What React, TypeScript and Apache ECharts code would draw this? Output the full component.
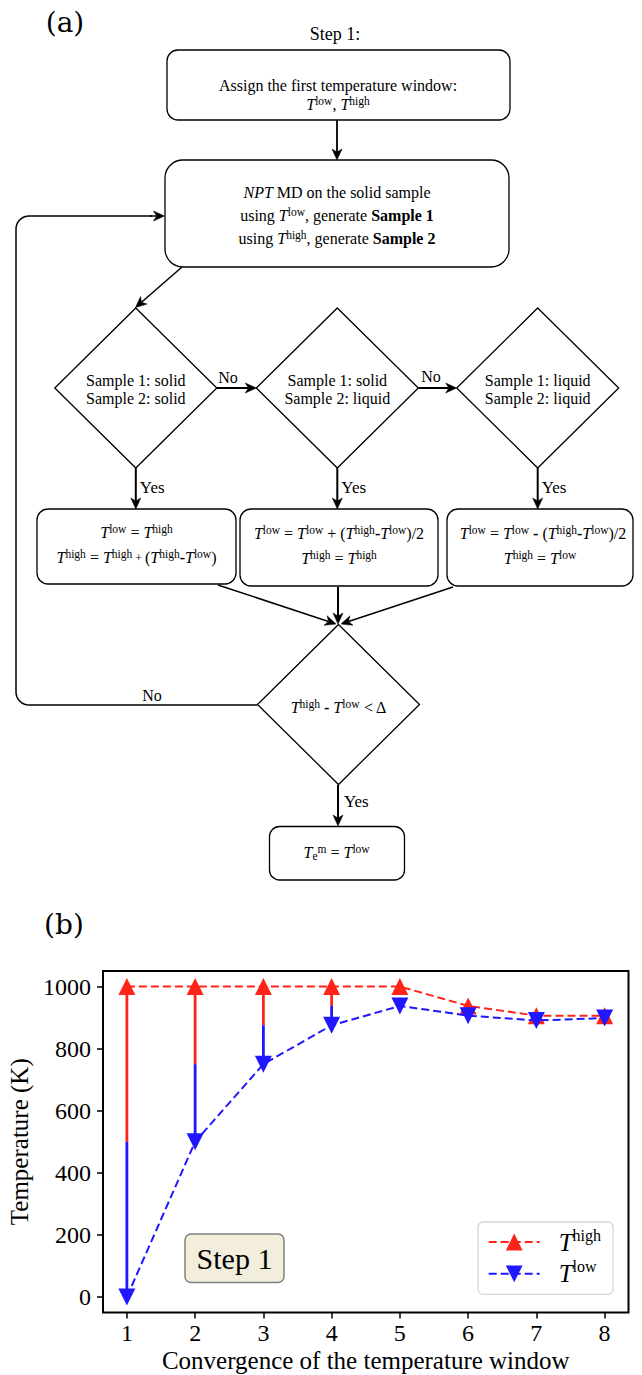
import React, { useEffect, useRef } from 'react';
import * as echarts from 'echarts';

// ---------- data ----------
const steps = [1, 2, 3, 4, 5, 6, 7, 8];
const tHigh = [1000, 1000, 1000, 1000, 1000, 937.5, 906.25, 906.25];
const tLow = [0, 500, 750, 875, 937.5, 906.25, 890.6, 898.4];
const splitSteps = [1, 2, 3, 4];
const splitHigh = [1000, 1000, 1000, 1000];
const splitMid = [500, 750, 875, 937.5];
const splitLow = [0, 500, 750, 875];
const xTicks = [1, 2, 3, 4, 5, 6, 7, 8];
const yTicks = [0, 200, 400, 600, 800, 1000];

const F = 'Liberation Serif';
const RED = '#ff2419';
const BLUE = '#2016ff';

const RICH: any = {
  n: { fontFamily: F, fontSize: 16, lineHeight: 19 },
  i: { fontFamily: F, fontSize: 16, lineHeight: 19, fontStyle: 'italic' },
  b: { fontFamily: F, fontSize: 16, lineHeight: 19, fontWeight: 'bold' },
  p: { fontFamily: F, fontSize: 11.5, lineHeight: 11, verticalAlign: 'top' },
  e: { fontFamily: F, fontSize: 11.5, lineHeight: 11, verticalAlign: 'bottom' },
  s: { fontFamily: F, fontSize: 12, lineHeight: 19 },
};

function buildFlow(): any[] {
  const els: any[] = [];
  const LW = 1.3;
  const rect = (x: number, y: number, w: number, h: number, r: number) =>
    els.push({ type: 'rect', shape: { x, y, width: w, height: h, r }, style: { fill: '#fff', stroke: '#000', lineWidth: LW } });
  const diamond = (cx: number, cy: number, hw: number, hh: number) =>
    els.push({
      type: 'polygon',
      shape: { points: [[cx, cy - hh], [cx + hw, cy], [cx, cy + hh], [cx - hw, cy]] },
      style: { fill: '#fff', stroke: '#000', lineWidth: LW },
    });
  const arrow = (x1: number, y1: number, x2: number, y2: number, lw = 1.8, len = 11, hw = 5) => {
    const dx = x2 - x1, dy = y2 - y1, L = Math.hypot(dx, dy);
    const ux = dx / L, uy = dy / L, px = -uy, py = ux;
    const bx = x2 - ux * len, by = y2 - uy * len;
    const nx = x2 - ux * len * 0.72, ny = y2 - uy * len * 0.72;
    els.push({ type: 'line', shape: { x1, y1, x2: nx, y2: ny }, style: { stroke: '#000', lineWidth: lw } });
    els.push({
      type: 'polygon',
      shape: { points: [[x2, y2], [bx + px * hw, by + py * hw], [nx, ny], [bx - px * hw, by - py * hw]] },
      style: { fill: '#000', stroke: '#000', lineWidth: 0.5 },
    });
  };
  const txt = (x: number, y: number, text: string, extra: any = {}) =>
    els.push({
      type: 'text', x, y,
      style: { text, rich: RICH, align: 'center', verticalAlign: 'middle', fill: '#000', fontFamily: F, fontSize: 16, ...extra },
    });

  // panel labels
  els.push({ type: 'text', x: 65, y: 22, style: { text: '(a)', align: 'center', verticalAlign: 'middle', fill: '#000', fontFamily: 'DejaVu Serif', fontSize: 28 } });
  els.push({ type: 'text', x: 64, y: 924, style: { text: '(b)', align: 'center', verticalAlign: 'middle', fill: '#000', fontFamily: 'DejaVu Serif', fontSize: 28 } });

  // Step 1 title + first box
  txt(335, 33.5, '{n|Step 1:}', { rich: { n: { fontFamily: F, fontSize: 18 } } });
  rect(167, 50, 343, 70, 11);
  txt(338, 85, '{n|Assign the first temperature window:}');
  txt(338, 104, '{i|T}{p|low}{n|, }{i|T}{p|high}');
  arrow(337, 120, 337, 160);

  // second box
  rect(165, 160, 344, 107, 18);
  txt(337, 192, '{i|NPT}{n| MD on the solid sample}');
  txt(337, 215, '{n|using }{i|T}{p|low}{n|, generate }{b|Sample 1}');
  txt(337, 238, '{n|using }{i|T}{p|high}{n|, generate }{b|Sample 2}');

  // diagonal arrow to first diamond
  arrow(182, 267, 135.5, 307.5, 1.5);

  // three diamonds
  const dCx = [135.8, 337.3, 537.7];
  const dCy = 388;
  const dLines = [
    ['Sample 1: solid', 'Sample 2: solid'],
    ['Sample 1: solid', 'Sample 2: liquid'],
    ['Sample 1: liquid', 'Sample 2: liquid'],
  ];
  dCx.forEach((cx, k) => {
    diamond(cx, dCy, 81, 80);
    txt(cx, 380, '{n|' + dLines[k][0] + '}');
    txt(cx, 398.5, '{n|' + dLines[k][1] + '}');
    arrow(cx, 468, cx, 509, 2);
    txt(cx + 4, 487, '{n|Yes}', { align: 'left', rich: { n: { fontFamily: F, fontSize: 17 } } });
  });
  arrow(216.8, dCy, 256.3, dCy, 2);
  arrow(418.3, dCy, 456.7, dCy, 2);
  txt(228, 377, '{n|No}');
  txt(431, 376.5, '{n|No}');

  // result boxes
  rect(37, 509, 199, 75, 11);
  rect(240, 509, 198, 77, 11);
  rect(447, 509, 186, 77, 11);
  txt(136.5, 532.5, '{i|T}{p|low}{n| = }{i|T}{p|high}');
  txt(136.5, 557.5, '{i|T}{p|high}{n| = }{i|T}{p|high}{s| + }{n|(}{i|T}{p|high}{b|-}{i|T}{p|low}{n|)}');
  txt(339, 533, '{i|T}{p|low}{n| = }{i|T}{p|low}{n| + (}{i|T}{p|high}{b|-}{i|T}{p|low}{n|)/2}');
  txt(339, 558, '{i|T}{p|high}{n| = }{i|T}{p|high}');
  txt(543, 533, '{i|T}{p|low}{n| = }{i|T}{p|low}{b| - }{n|(}{i|T}{p|high}{b|-}{i|T}{p|low}{n|)/2}');
  txt(540, 558, '{i|T}{p|high}{n| = }{i|T}{p|low}');

  // converging arrows
  arrow(218, 585, 336, 624, 1.5);
  arrow(338, 587, 338, 624, 2);
  arrow(453, 587, 341, 624, 1.5);

  // convergence diamond
  diamond(338.5, 704.5, 81, 80);
  txt(338.7, 707, '{i|T}{p|high}{b| - }{i|T}{p|low}{n| < Δ}');

  // feedback loop
  const r = 13;
  const pts: number[][] = [[257.5, 705], [16 + r, 705]];
  for (let a = 90; a <= 180; a += 10) {
    const t = (a * Math.PI) / 180;
    pts.push([16 + r + r * Math.cos(t), 705 - r + r * Math.sin(t)]);
  }
  pts.push([16, 216 + r]);
  for (let a = 180; a <= 270; a += 10) {
    const t = (a * Math.PI) / 180;
    pts.push([16 + r + r * Math.cos(t), 216 + r + r * Math.sin(t)]);
  }
  pts.push([152, 216]);
  els.push({ type: 'polyline', shape: { points: pts }, style: { stroke: '#000', lineWidth: 1.5, fill: null } });
  arrow(150, 216, 164.5, 216, 1.5);
  txt(152, 695, '{n|No}');

  // final arrow + box
  arrow(338, 785, 338, 826, 2);
  txt(344, 801, '{n|Yes}', { align: 'left', rich: { n: { fontFamily: F, fontSize: 17 } } });
  rect(269.5, 826.5, 135, 53.5, 10);
  txt(336.6, 852, '{i|T}{e|e}{p|m}{n| = }{i|T}{p|low}');

  // Step 1 annotation inside chart (b)
  els.push({ type: 'rect', shape: { x: 185, y: 1234, width: 99, height: 48.5, r: 6 }, style: { fill: '#f3eedc', stroke: '#808080', lineWidth: 1.5 } });
  els.push({ type: 'text', x: 234.5, y: 1258.5, style: { text: 'Step 1', align: 'center', verticalAlign: 'middle', fill: '#000', fontFamily: F, fontSize: 30 } });
  return els;
}

export default function App() {
  const ref = useRef<HTMLDivElement>(null);
  useEffect(() => {
    if (!ref.current) return;
    const chart = echarts.init(ref.current, null, { renderer: 'svg' });
    const arrowData = splitSteps.map((s, i) => [s, splitHigh[i], splitMid[i], splitLow[i]]);
    const axisFont = { fontFamily: F, fontSize: 24, color: '#000' };
    const option: any = {
      animation: false,
      backgroundColor: '#fff',
      grid: {
        left: 103, top: 971, width: 525.5, height: 341.5,
        show: true, borderColor: '#000', borderWidth: 2, backgroundColor: 'transparent',
        containLabel: false, outerBoundsMode: 'none',
      },
      xAxis: {
        type: 'value', min: 0.65, max: 8.35,
        axisLine: { show: false, onZero: false },
        axisTick: { show: true, length: 6, lineStyle: { color: '#000', width: 1.5 }, customValues: xTicks },
        axisLabel: { ...axisFont, margin: 8, customValues: xTicks, formatter: (v: number) => String(v) },
        splitLine: { show: false },
        name: 'Convergence of the temperature window',
        nameLocation: 'middle', nameGap: 35,
        nameTextStyle: { fontFamily: F, fontSize: 25, color: '#000', verticalAlign: 'top' },
      },
      yAxis: {
        type: 'value', min: -50, max: 1050,
        axisLine: { show: false, onZero: false },
        axisTick: { show: true, length: 6, lineStyle: { color: '#000', width: 1.5 }, customValues: yTicks },
        axisLabel: { ...axisFont, margin: 12, customValues: yTicks, formatter: (v: number) => String(v) },
        splitLine: { show: false },
        name: 'Temperature (K)',
        nameLocation: 'middle', nameGap: 59, nameRotate: 90,
        nameTextStyle: { fontFamily: F, fontSize: 25, color: '#000' },
      },
      legend: {
        data: ['T_high', 'T_low'],
        orient: 'vertical', left: 478, top: 1222,
        itemWidth: 51, itemHeight: 21, itemGap: 4.3,
        padding: [5, 12, 8, 9.7],
        borderColor: '#d6d6d6', borderWidth: 1.3, borderRadius: 5, backgroundColor: '#fff',
        formatter: (name: string) => (name === 'T_high' ? '{t|T}{s|high}' : '{t|T}{s|low}'),
        textStyle: {
          color: '#000',
          rich: {
            t: { fontFamily: F, fontStyle: 'italic', fontSize: 25, lineHeight: 30, padding: [0, 0, 0, 14], color: '#000' },
            s: { fontFamily: F, fontSize: 16, lineHeight: 16, verticalAlign: 'top', color: '#000' },
          },
        },
      },
      graphic: { elements: buildFlow() },
      series: [
        {
          type: 'custom',
          silent: true,
          z: 1,
          data: arrowData,
          encode: { x: 0, y: [1, 2, 3] },
          renderItem: (params: any, api: any) => {
            const x = api.value(0);
            const pHi = api.coord([x, api.value(1)]);
            const pMid = api.coord([x, api.value(2)]);
            const pLo = api.coord([x, api.value(3)]);
            return {
              type: 'group',
              children: [
                { type: 'line', shape: { x1: pHi[0], y1: pHi[1], x2: pMid[0], y2: pMid[1] }, style: { stroke: RED, lineWidth: 2.8 } },
                { type: 'line', shape: { x1: pMid[0], y1: pMid[1], x2: pLo[0], y2: pLo[1] }, style: { stroke: BLUE, lineWidth: 2.8 } },
              ],
            };
          },
        },
        {
          name: 'T_high',
          type: 'line',
          z: 3,
          data: steps.map((s, i) => [s, tHigh[i]]),
          symbol: 'triangle',
          symbolSize: 17,
          lineStyle: { color: RED, width: 2, type: [8, 4] },
          itemStyle: { color: RED },
        },
        {
          name: 'T_low',
          type: 'line',
          z: 4,
          data: steps.map((s, i) => [s, tLow[i]]),
          symbol: 'triangle',
          symbolRotate: 180,
          symbolSize: 17,
          lineStyle: { color: BLUE, width: 2, type: [8, 4] },
          itemStyle: { color: BLUE },
        },
      ],
    };
    chart.setOption(option);
    return () => chart.dispose();
  }, []);
  return <div ref={ref} style={{ position: 'absolute', left: 0, top: 0, width: 642, height: 1375 }} />;
}
